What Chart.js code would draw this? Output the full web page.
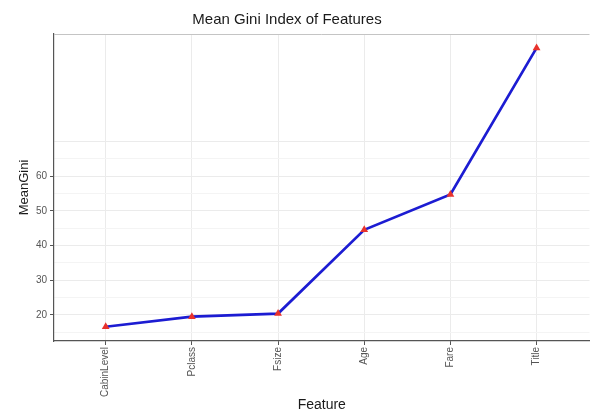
<!DOCTYPE html>
<html>
<head>
<meta charset="utf-8">
<script src="https://cdn.jsdelivr.net/npm/chart.js@4.4.0/dist/chart.umd.min.js"></script>
<style>
    body { margin: 0; background: #fff; }
    #wrap { width: 594px; height: 412px; }
</style>
</head>
<body>
<div id="wrap"><canvas id="myChart" width="594" height="412"></canvas></div>
<script>
// data
const features = ["CabinLevel", "Pclass", "Fsize", "Age", "Fare", "Title"];
const meanGini = [16.6, 19.5, 20.4, 44.5, 54.7, 96.9];
const yTickLabels = [20, 30, 40, 50, 60];
const yGridValues = [15, 20, 25, 30, 35, 40, 45, 50, 55, 60, 65, 70];

document.addEventListener("DOMContentLoaded", function () {
    const ctx = document.getElementById('myChart');

    const points = features.map(function (f, i) {
        return { x: i, y: meanGini[i] };
    });

    // ggplot-ish title and the light panel border on top
    const decor = {
        id: 'decor',
        afterDraw: function (chart) {
            const c = chart.ctx;
            const area = chart.chartArea;
            c.save();
            c.strokeStyle = '#c4c4c4';
            c.lineWidth = 1;
            c.beginPath();
            c.moveTo(area.left, area.top + 0.5);
            c.lineTo(area.right, area.top + 0.5);
            c.stroke();

            c.fillStyle = '#1a1a1a';
            c.font = '15px "Liberation Sans", Arial, sans-serif';
            c.textAlign = 'center';
            c.textBaseline = 'middle';
            c.fillText('Mean Gini Index of Features', 287, 20);
            c.restore();
        }
    };

    new Chart(ctx, {
        type: 'line',
        data: {
            datasets: [{
                label: 'MeanGini',
                data: points,
                borderColor: '#1c1cd2',
                borderWidth: 2.7,
                tension: 0,
                pointStyle: 'triangle',
                pointRadius: 4.5,
                pointBackgroundColor: '#e8322c',
                pointBorderColor: '#e8322c',
                pointBorderWidth: 0,
                clip: false
            }]
        },
        options: {
            responsive: false,
            animation: false,
            layout: {
                padding: { top: 34, right: 0, bottom: 0, left: 0 }
            },
            plugins: {
                legend: { display: false },
                tooltip: { enabled: false },
                title: { display: false }
            },
            scales: {
                x: {
                    type: 'linear',
                    min: -0.6,
                    max: 5.614,
                    afterBuildTicks: function (scale) {
                        scale.ticks = features.map(function (f, i) { return { value: i }; });
                    },
                    afterFit: function (scale) {
                        scale.height = 71;
                    },
                    ticks: {
                        autoSkip: false,
                        minRotation: 90,
                        maxRotation: 90,
                        padding: 2,
                        color: '#555',
                        font: { size: 10, family: '"Liberation Sans", Arial, sans-serif' },
                        callback: function (value) {
                            return features[value];
                        }
                    },
                    grid: {
                        color: '#ebebeb',
                        lineWidth: 1,
                        tickLength: 4,
                        tickColor: '#555'
                    },
                    border: { color: '#555', width: 1.2 },
                    title: {
                        display: true,
                        text: 'Feature',
                        color: '#1a1a1a',
                        font: { size: 14, family: '"Liberation Sans", Arial, sans-serif', lineHeight: 1 },
                        padding: { top: 0, bottom: 0 }
                    }
                },
                y: {
                    type: 'linear',
                    min: 12.5,
                    max: 100.9,
                    afterBuildTicks: function (scale) {
                        scale.ticks = yGridValues.map(function (v) { return { value: v }; });
                    },
                    afterFit: function (scale) {
                        scale.width = 54;
                    },
                    ticks: {
                        padding: 3,
                        color: '#555',
                        font: { size: 10, family: '"Liberation Sans", Arial, sans-serif' },
                        callback: function (value) {
                            return yTickLabels.includes(value) ? String(value) : '';
                        }
                    },
                    grid: {
                        color: function (c) {
                            return c.tick && c.tick.value % 10 === 0 ? '#ebebeb' : '#f4f4f4';
                        },
                        lineWidth: 1,
                        tickLength: 4,
                        tickColor: function (c) {
                            return c.tick && yTickLabels.includes(c.tick.value) ? '#555' : 'rgba(0,0,0,0)';
                        }
                    },
                    border: { color: '#555', width: 1.2 },
                    title: {
                        display: true,
                        text: 'MeanGini',
                        color: '#1a1a1a',
                        font: { size: 13, family: '"Liberation Sans", Arial, sans-serif', lineHeight: 1.2 },
                        padding: { top: 17, bottom: 0 }
                    }
                }
            }
        },
        plugins: [decor]
    });
});
</script>
</body>
</html>
